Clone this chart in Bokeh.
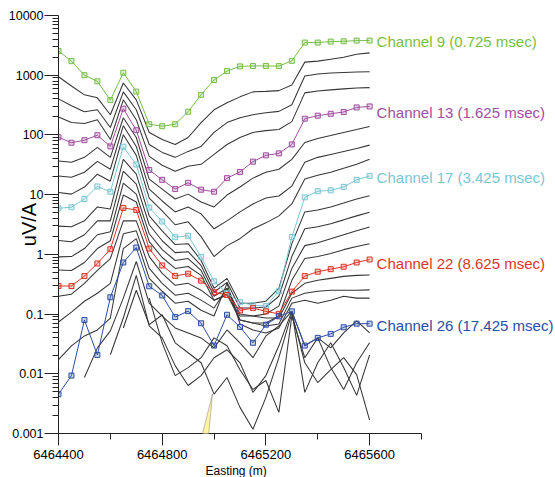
from math import pi
from bokeh.plotting import figure
from bokeh.models import Range1d, FixedTicker, CustomJSTickFormatter, Label, PolyAnnotation, Title
from bokeh.embed import file_html
from bokeh.resources import INLINE

nan = float("nan")

EASTING = [6464400, 6464450, 6464500, 6464550, 6464600, 6464650, 6464700, 6464750,
           6464800, 6464850, 6464900, 6464950, 6465000, 6465050, 6465100, 6465150,
           6465200, 6465250, 6465300, 6465350, 6465400, 6465450, 6465500, 6465550,
           6465600]

# highlighted channels
CH9 = [2550, 1720, 1000, 790, 383, 1100, 532, 151, 140, 151, 245, 469, 832, 1175, 1405,
       1430, 1430, 1420, 1740, 3520, 3520, 3660, 3700, 3800, 3800]
CH13 = [91.6, 74, 81.7, 98.8, 64.2, 275, 120, 25.9, 17.7, 12.4, 15.8, 12.1, 11.2, 18.9, 24,
        35.7, 45.5, 49.1, 69.3, 187, 210, 226, 242, 289, 300]
CH17 = [5.92, 6.15, 8.45, 13.7, 11.2, 63.4, 31.9, 6.06, 3.55, 1.94, 2.05, 0.908, 0.353, 0.223,
        0.158, 0.141, 0.136, 0.241, 1.95, 9.02, 11.4, 11.8, 13.5, 17.7, 20.6]
CH22 = [0.295, 0.295, 0.433, 0.703, 1.22, 5.99, 5.55, 1.25, 0.652, 0.436, 0.474, 0.363, 0.232,
        0.209, 0.115, 0.126, 0.111, 0.101, 0.238, 0.433, 0.512, 0.565, 0.62, 0.731, 0.82]
CH26 = [0.00456, 0.00933, 0.0794, 0.0207, 0.191, 0.731, 1.30, 0.292, 0.205, 0.0891, 0.112,
        0.0701, 0.0297, 0.0973, 0.0608, 0.033, 0.0664, 0.0916, 0.111, 0.0297, 0.0399, 0.0466,
        0.0601, 0.069, 0.069]

# remaining channels (drawn in black)
CH10 = [944, 661, 469, 418, 218, 741, 387, 110, 83.9, 69.2, 90.6, 161, 264, 345, 434, 526, 536,
        552, 687, 1656, 1722, 1858, 2004, 2249, 2366]
CH11 = [402, 308, 245, 264, 133, 526, 264, 69.2, 51.0, 42.1, 53.0, 64.1, 110, 161, 194, 218, 236,
        248, 320, 970, 1047, 1086, 1109, 1130, 1143]
CH12 = [200, 161, 155, 180, 83.9, 387, 180, 43.7, 31.0, 24.7, 29.9, 32.2, 47.2, 69.2, 90.6, 110,
        118, 123, 167, 506, 546, 568, 590, 613, 620]
CH14 = [36.6, 34.8, 42.1, 61.8, 42.1, 194, 90.6, 18.2, 12.4, 8.45, 10.2, 7.53, 6.22, 9.84, 13.4,
        18.9, 23.7, 26.6, 39.0, 74.8, 87.1, 97.7, 110, 123, 139]
CH15 = [20.6, 19.6, 23.7, 36.1, 26.6, 143, 64.1, 12.4, 7.83, 5.14, 6.22, 4.76, 2.68, 3.64, 5.14,
        6.98, 8.77, 9.48, 13.9, 34.8, 42.1, 47.2, 53.0, 59.4, 67.5]
CH16 = [10.9, 10.2, 13.4, 22.0, 16.8, 101, 45.5, 8.77, 5.34, 3.13, 3.51, 1.98, 0.918, 1.40, 1.83,
        2.68, 3.37, 4.41, 6.98, 18.2, 21.1, 23.7, 27.7, 32.2, 39.0]
CH18 = [2.97, 2.90, 3.64, 6.22, 5.77, 39.0, 22.0, 4.41, 2.48, 1.46, 1.51, 0.789, 0.270, 0.396,
        0.152, 0.152, 0.164, 0.270, 1.51, 5.14, 5.55, 6.22, 7.24, 8.45, 9.59]
CH19 = [1.71, 1.63, 2.13, 3.64, 3.64, 24.7, 15.0, 3.13, 1.69, 1.07, 1.11, 0.652, 0.232, 0.340,
        0.126, 0.126, 0.131, 0.199, 0.918, 2.68, 2.90, 3.25, 3.78, 4.41, 5.08]
CH20 = [0.908, 0.918, 1.25, 2.13, 2.39, 15.6, 10.2, 2.21, 1.20, 0.789, 0.851, 0.538, 0.199, 0.270,
        0.100, 0.0927, 0.100, 0.136, 0.581, 1.40, 1.57, 1.83, 2.13, 2.48, 2.86]
CH21 = [0.545, 0.538, 0.731, 1.25, 1.69, 9.84, 7.53, 1.63, 0.885, 0.581, 0.627, 0.445, 0.171,
        0.215, 0.0794, 0.0708, 0.0708, 0.0927, 0.367, 0.851, 0.918, 1.03, 1.20, 1.35, 1.51]
CH23 = [0.199, 0.215, 0.327, 0.538, 0.851, 3.64, 3.64, 0.918, 0.480, 0.303, 0.327, 0.251, 0.171,
        0.207, 0.0927, 0.0927, 0.0859, 0.0859, 0.223, 0.327, 0.367, 0.396, 0.428, 0.445, 0.450]
CH24 = [0.0736, 0.108, 0.164, 0.223, 0.327, 2.21, 2.48, 0.581, 0.327, 0.207, 0.223, 0.171, 0.126,
        0.270, 0.0794, 0.0708, 0.0632, 0.0682, 0.185, 0.223, 0.241, 0.251, 0.251, 0.251, 0.254]
CH25 = [0.0172, 0.0294, 0.0431, 0.0542, 0.0859, 1.25, 1.83, 0.396, 0.241, 0.152, 0.164, 0.116,
        0.0927, 0.327, 0.0682, 0.0542, 0.0483, 0.0585, 0.152, 0.171, 0.152, 0.171, 0.199, 0.185,
        0.185]
CH27 = [nan, nan, 0.00865, 0.0272, 0.0522, 0.185, 0.759, 0.152, 0.0927, 0.0585, 0.0483, 0.0399,
        0.0272, 0.0542, 0.0330, 0.0186, 0.0431, 0.0632, 0.112, 0.0294, 0.0399, 0.0272, 0.0483,
        0.0766, 0.0483]
CH28 = [nan, nan, nan, nan, 0.0208, 0.0859, 0.445, 0.0632, 0.0399, 0.0137, 0.00637, 0.00933,
        0.0186, 0.0252, 0.0153, 0.00488, 0.00933, 0.0294, 0.112, 0.00488, 0.0153, 0.0330, 0.0127,
        0.00435, 0.0208]
CH29 = [nan, nan, nan, nan, nan, 0.0585, 0.251, 0.0664, 0.0973, 0.0330, 0.0225, 0.0153, 0.00456,
        0.00865, 0.00274, 0.00118, 0.00403, 0.0186, 0.104, 0.0153, 0.00714, 0.0117, 0.0186,
        0.00970, 0.00167]
CH30 = [nan, nan, nan, nan, nan, nan, nan, 0.185, 0.0330, 0.00933, 0.0127, 0.0186, 0.0399, 0.0294,
        0.0117, 0.00547, 0.00771, 0.00226, 0.0927, 0.0186, 0.0399, 0.0127, 0.00547, 0.0153,
        0.0330]

BLACK_CHANNELS = [CH10, CH11, CH12, CH14, CH15, CH16, CH18, CH19, CH20, CH21, CH23, CH24, CH25,
                  CH27, CH28, CH29, CH30]
HIGHLIGHT = [CH9, CH13, CH17, CH22, CH26]
HIGHLIGHT_NAMES = ["Channel 9 (0.725 msec)", "Channel 13 (1.625 msec)",
                   "Channel 17 (3.425 msec)", "Channel 22 (8.625 msec)",
                   "Channel 26 (17.425 msec)"]
HIGHLIGHT_COLORS = ["#78BE48", "#A04E9E", "#7CC6D2", "#DA3627", "#2C4DA2"]
LABEL_DY = [-1, -6, -2, -4, -2]

Y_TICKS = [0.001, 0.01, 0.1, 1, 10, 100, 1000, 10000]
X_TICKS = [6464400, 6464800, 6465200, 6465600]
X_MINOR = [6464600, 6465000, 6465400, 6465800]
X_AXIS_BOUNDS = (6464400, 6465800)
X_VIEW = (6464400, 6466317)
CALLOUT_TIP = (6464994, 0.0046)

FONT = "Liberation Sans"

p = figure(width=555, height=477, x_range=Range1d(*X_VIEW),
           y_range=Range1d(0.001, 10000), y_axis_type="log",
           output_backend="svg", toolbar_location=None,
           min_border_left=58, min_border_right=0, min_border_top=15, min_border_bottom=44)
p.outline_line_color = None
p.grid.visible = False
p.background_fill_color = "white"
p.border_fill_color = "white"

for ch in BLACK_CHANNELS:
    p.line(EASTING, ch, line_color="#363636", line_width=1.05)

for vals, col in zip(HIGHLIGHT, HIGHLIGHT_COLORS):
    p.line(EASTING, vals, line_color=col, line_width=1)
    p.scatter(EASTING, vals, marker="square", size=5, line_color=col, line_width=1,
              fill_color=col, fill_alpha=0.25)

for vals, col, name, dy in zip(HIGHLIGHT, HIGHLIGHT_COLORS, HIGHLIGHT_NAMES, LABEL_DY):
    p.add_layout(Label(x=EASTING[-1], y=vals[-1], x_offset=7, y_offset=dy, text=name,
                       text_color=col, text_font=FONT, text_font_size="15px",
                       text_baseline="middle", text_align="left"))

minor_y = [k * 10.0 ** e for e in range(-3, 4) for k in range(2, 10)]
yax = p.yaxis[0]
yax.ticker = FixedTicker(ticks=Y_TICKS, minor_ticks=minor_y)
yax.formatter = CustomJSTickFormatter(code="return tick.toString();")
yax.major_label_text_font = FONT
yax.major_label_text_font_size = "12.5px"
yax.major_label_text_color = "black"
yax.major_tick_out = 14
yax.major_tick_in = 0
yax.minor_tick_out = 6
yax.minor_tick_in = 0
yax.major_label_standoff = 1
yax.axis_line_color = "#222222"
yax.major_tick_line_color = "#222222"
yax.minor_tick_line_color = "#222222"
yax.axis_label = "uV/A"
yax.axis_label_text_font = FONT
yax.axis_label_text_font_size = "20px"
yax.axis_label_text_font_style = "normal"
yax.axis_label_text_color = "black"
yax.axis_label_standoff = -34

xax = p.xaxis[0]
xax.bounds = X_AXIS_BOUNDS
xax.ticker = FixedTicker(ticks=X_TICKS, minor_ticks=X_MINOR)
xax.formatter = CustomJSTickFormatter(code="return tick.toFixed(0);")
xax.major_label_text_font = FONT
xax.major_label_text_font_size = "13px"
xax.major_label_text_color = "black"
xax.major_tick_out = 12
xax.major_tick_in = 0
xax.minor_tick_out = 6
xax.minor_tick_in = 0
xax.major_label_standoff = 4
xax.axis_line_color = "#222222"
xax.major_tick_line_color = "#222222"
xax.minor_tick_line_color = "#222222"

p.add_layout(Title(text="Easting (m)", align="left", offset=147, standoff=0,
                   text_font=FONT, text_font_size="12px", text_font_style="normal",
                   text_color="black"), "below")

tx, ty = CALLOUT_TIP
p.add_layout(PolyAnnotation(xs=[tx, tx - 80, tx - 30], ys=[ty, 0.00019, 0.00019],
                            fill_color="#FFF3A8", fill_alpha=1.0, line_color="#333333",
                            line_width=1))

open("out.html", "w").write(file_html(p, INLINE))
